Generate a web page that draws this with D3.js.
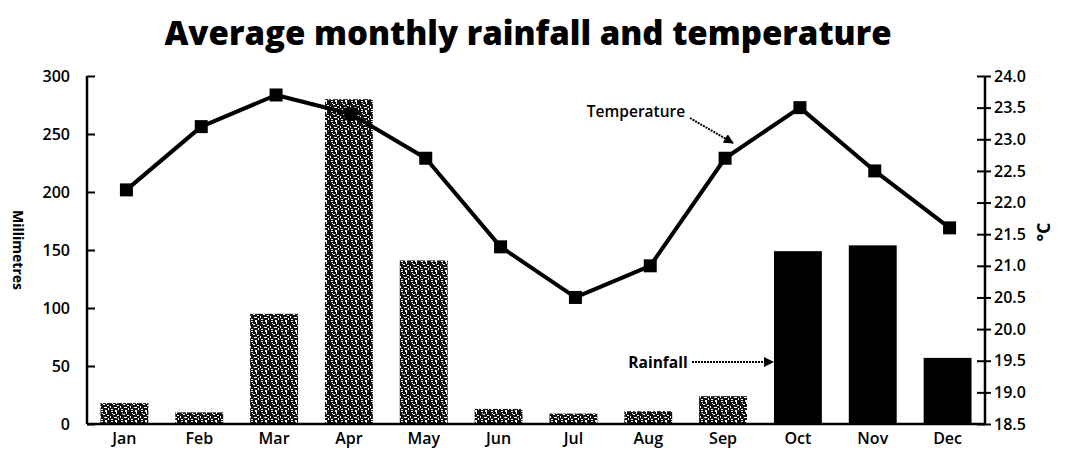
<!DOCTYPE html>
<html><head><meta charset="utf-8">
<script src="https://cdn.jsdelivr.net/npm/d3@7"></script>
<style>body{margin:0;background:#fff;} text{font-family:"Open Sans",sans-serif;}</style>
</head><body>
<svg id="c" width="1070" height="450"></svg>
<script>
const months = ["Jan","Feb","Mar","Apr","May","Jun","Jul","Aug","Sep","Oct","Nov","Dec"];
const rainfall = [18, 10, 95, 280, 141, 13, 9, 11, 24, 149, 154, 57];
const temperature = [22.2, 23.2, 23.7, 23.4, 22.7, 21.3, 20.5, 21.0, 22.7, 23.5, 22.5, 21.6];
const rainTicks = [0, 50, 100, 150, 200, 250, 300];
const tempTicks = [18.5, 19.0, 19.5, 20.0, 20.5, 21.0, 21.5, 22.0, 22.5, 23.0, 23.5, 24.0];
const solidMonths = ["Oct","Nov","Dec"];

const svg = d3.select("#c");
const L = 87, R = 985, T = 76, B = 424;

const defs = svg.append("defs");
const pat = defs.append("pattern").attr("id","speck").attr("width",10).attr("height",10)
  .attr("patternUnits","userSpaceOnUse");
pat.append("rect").attr("width",10).attr("height",10).attr("fill","#111");
[[1,1,2,1],[5,0,2,2],[3,4,2,1],[7,5,2,1],[0,6,1,2],[4,7,3,1],[6,2,1,2],[2,3,1,1],[8,8,1,2],[1,9,2,1]].forEach(d=>{
  pat.append("rect").attr("x",d[0]).attr("y",d[1]).attr("width",d[2]).attr("height",d[3]).attr("fill","#fff");
});
const marker = defs.append("marker").attr("id","arr").attr("viewBox","0 0 10 10").attr("refX",9).attr("refY",5)
  .attr("markerWidth",5).attr("markerHeight",5).attr("orient","auto");
marker.append("path").attr("d","M0,0L10,5L0,10Z").attr("fill","#000");

const x = d3.scaleBand().domain(months).range([L, R]).paddingInner(0.36).paddingOuter(0.18);
const yL = d3.scaleLinear().domain([0, 300]).range([B, T]);
const yR = d3.scaleLinear().domain([18.5, 24.0]).range([B, T]);

// title
svg.append("text").attr("x", 528).attr("y", 45).attr("text-anchor","middle")
  .style("font-size","33px").style("font-weight","800").text("Average monthly rainfall and temperature");

// bars
svg.append("g").selectAll("rect").data(months).join("rect")
  .attr("x", d => x(d)).attr("width", x.bandwidth())
  .attr("y", (d,i) => yL(rainfall[i])).attr("height", (d,i) => yL(0) - yL(rainfall[i]))
  .attr("fill", d => solidMonths.includes(d) ? "#000" : "url(#speck)");

const tickFont = g => g.selectAll("text").style("font-size","16px").style("font-weight","600")
  .style("font-family","'Open Sans',sans-serif");

// left axis
const gl = svg.append("g").attr("transform",`translate(${L},0)`)
  .call(d3.axisLeft(yL).tickValues(rainTicks).tickSize(9).tickPadding(8));
gl.selectAll(".tick line").attr("x2", 8).attr("stroke-width",2);
gl.select(".domain").attr("stroke-width",2.5).attr("d",`M0,${T}V${B}`);
tickFont(gl);

// right axis
const gr = svg.append("g").attr("transform",`translate(${R},0)`)
  .call(d3.axisRight(yR).tickValues(tempTicks).tickFormat(d3.format(".1f")).tickSize(6).tickPadding(3));
gr.selectAll(".tick line").attr("x1", -8).attr("stroke-width",2);
gr.select(".domain").attr("stroke-width",2.5).attr("d",`M0,${T}V${B}`);
tickFont(gr);

// x axis
const gx = svg.append("g").attr("transform",`translate(0,${B})`)
  .call(d3.axisBottom(x).tickSize(0).tickPadding(9));
gx.select(".domain").attr("stroke-width",2.5).attr("d",`M${L},0H${R}`);
tickFont(gx);

// line
const cx = d => x(d) + x.bandwidth()/2 + 2;
svg.append("path").datum(months)
  .attr("d", d3.line().x(cx).y((d,i) => yR(temperature[i])))
  .attr("fill","none").attr("stroke","#000").attr("stroke-width",4).attr("stroke-linejoin","round");
svg.append("g").selectAll("rect").data(months).join("rect")
  .attr("x", d => cx(d) - 6.5).attr("y", (d,i) => yR(temperature[i]) - 6.5)
  .attr("width",13).attr("height",13).attr("fill","#000");

// axis titles
svg.append("text").attr("transform","translate(13,250) rotate(90)").attr("text-anchor","middle")
  .style("font-size","14px").style("font-weight","700").text("Millimetres");
svg.append("text").attr("transform","translate(1050,232) rotate(-90)").attr("text-anchor","middle")
  .style("font-size","18px").style("font-weight","700").text("°C");

// annotations
svg.append("text").attr("x",636).attr("y",117).attr("text-anchor","middle")
  .style("font-size","15.5px").style("font-weight","600").text("Temperature");
svg.append("line").attr("x1",690).attr("y1",118).attr("x2",733).attr("y2",143)
  .attr("stroke","#000").attr("stroke-width",2).attr("stroke-dasharray","2,1").attr("marker-end","url(#arr)");
svg.append("text").attr("x",658).attr("y",368).attr("text-anchor","middle")
  .style("font-size","15.5px").style("font-weight","700").text("Rainfall");
svg.append("line").attr("x1",692).attr("y1",362).attr("x2",773).attr("y2",362)
  .attr("stroke","#000").attr("stroke-width",2).attr("stroke-dasharray","2,1").attr("marker-end","url(#arr)");
</script>
</body></html>
